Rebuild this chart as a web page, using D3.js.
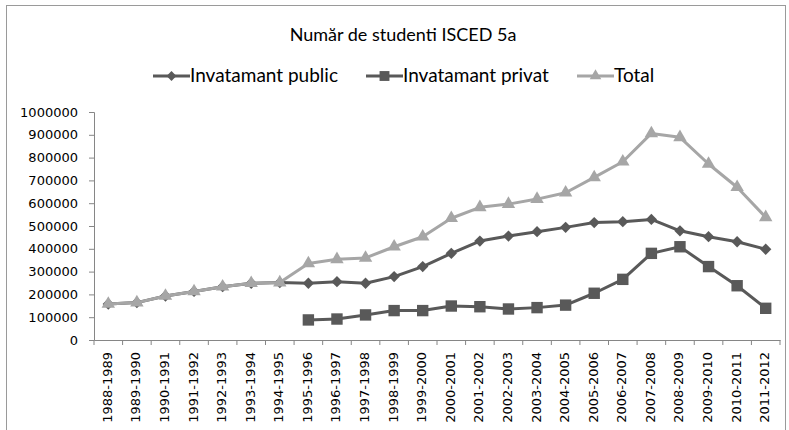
<!DOCTYPE html>
<html>
<head>
<meta charset="utf-8">
<script src="https://cdn.jsdelivr.net/npm/d3@7"></script>
<style>
  body { margin: 0; background: #fff; }
  svg { display: block; }
</style>
</head>
<body>
<div id="chart"></div>
<script>

const years = ["1988-1989", "1989-1990", "1990-1991", "1991-1992", "1992-1993", "1993-1994",
    "1994-1995", "1995-1996", "1996-1997", "1997-1998", "1998-1999", "1999-2000", "2000-2001",
    "2001-2002", "2002-2003", "2003-2004", "2004-2005", "2005-2006", "2006-2007", "2007-2008",
    "2008-2009", "2009-2010", "2010-2011", "2011-2012"];

const publicValues = [158000, 164000, 193000, 213000, 234000, 249000, 252000, 249000, 256000,
    249000, 278000, 322000, 380000, 434000, 456000, 475000, 494000, 515000, 519000, 529000,
    479000, 453000, 431000, 398000];

const privateValues = [null, null, null, null, null, null, null, 88000, 92000, 110000, 129000,
    129000, 149000, 146000, 136000, 142000, 153000, 205000, 266000, 380000, 409000, 322000,
    238000, 139000];

const totalValues = [158000, 164000, 193000, 213000, 234000, 249000, 252000, 336000, 354000,
    360000, 409000, 453000, 534000, 582000, 596000, 618000, 646000, 713000, 782000, 906000,
    889000, 772000, 670000, 538000];

const yTicks = [0, 100000, 200000, 300000, 400000, 500000, 600000, 700000, 800000, 900000, 1000000];

const width = 789, height = 430;
const plotLeft = 94, plotRight = 780, plotTop = 112, plotBottom = 340;

const svg = d3.select("#chart")
    .append("svg")
    .attr("width", width)
    .attr("height", height);

// chart frame (bottom edge is outside the picture)
svg.append("rect")
    .attr("x", 6.5).attr("y", 5.5)
    .attr("width", 779).attr("height", 440)
    .attr("fill", "none")
    .attr("stroke", "#9a9a9a")
    .attr("stroke-width", 1);

svg.append("text")
    .attr("x", 403).attr("y", 41)
    .attr("text-anchor", "middle")
    .style("font-family", "Lato, 'Open Sans', sans-serif")
    .style("font-size", "18px")
    .attr("fill", "#000")
    .text("Număr de studenti ISCED 5a");

const x = d3.scaleBand()
    .domain(years)
    .range([plotLeft, plotRight]);

const y = d3.scaleLinear()
    .domain([0, 1000000])
    .range([plotBottom, plotTop]);

// y axis
const yAxis = svg.append("g")
    .attr("transform", "translate(" + plotLeft + ",0)")
    .call(d3.axisLeft(y).tickValues(yTicks).tickSize(5).tickPadding(11).tickFormat(d3.format("d")));
yAxis.select(".domain").attr("stroke", "#868686");
yAxis.selectAll(".tick line").attr("stroke", "#868686");
yAxis.selectAll("text")
    .style("font-family", "'DejaVu Sans', Verdana, sans-serif")
    .style("font-size", "13px")
    .attr("fill", "#000");

// x axis, ticks on category boundaries
const xAxis = svg.append("g")
    .attr("transform", "translate(0," + plotBottom + ")")
    .call(d3.axisBottom(x).tickSize(0).tickPadding(0));
xAxis.select(".domain").attr("stroke", "#868686");
xAxis.selectAll(".tick line").remove();
xAxis.selectAll("text")
    .style("font-family", "'DejaVu Sans', Verdana, sans-serif")
    .style("font-size", "13px")
    .attr("fill", "#000")
    .attr("text-anchor", "end")
    .attr("dy", null)
    .attr("transform", "translate(3.5,12) rotate(-90)");

svg.append("g")
    .selectAll("line")
    .data(years.concat(["end"]))
    .enter()
    .append("line")
    .attr("x1", function (d, i) { return plotLeft + i * x.bandwidth(); })
    .attr("x2", function (d, i) { return plotLeft + i * x.bandwidth(); })
    .attr("y1", plotBottom)
    .attr("y2", plotBottom + 5)
    .attr("stroke", "#868686");

const cx = function (i) { return x(years[i]) + x.bandwidth() / 2; };

const series = [
    { name: "Invatamant public", values: publicValues, color: "#595959", symbol: d3.symbolSquare, size: 64, rot: 45 },
    { name: "Invatamant privat", values: privateValues, color: "#595959", symbol: d3.symbolSquare, size: 130, rot: 0 },
    { name: "Total", values: totalValues, color: "#a6a6a6", symbol: d3.symbolTriangle, size: 78, rot: 0 }
];

const line = d3.line()
    .defined(function (d) { return d !== null; })
    .x(function (d, i) { return cx(i); })
    .y(function (d) { return y(d); });

series.forEach(function (s) {
    svg.append("path")
        .datum(s.values)
        .attr("d", line)
        .attr("fill", "none")
        .attr("stroke", s.color)
        .attr("stroke-width", 3)
        .attr("stroke-linejoin", "round");

    svg.append("g")
        .selectAll("path")
        .data(s.values.map(function (v, i) { return { v: v, i: i }; }).filter(function (d) { return d.v !== null; }))
        .enter()
        .append("path")
        .attr("d", d3.symbol().type(s.symbol).size(s.size))
        .attr("transform", function (d) { return "translate(" + cx(d.i) + "," + y(d.v) + ") rotate(" + s.rot + ")"; })
        .attr("fill", s.color);
});

// legend
const legendX = [153, 366, 577];
series.forEach(function (s, i) {
    const g = svg.append("g").attr("transform", "translate(" + legendX[i] + ",76)");
    g.append("line")
        .attr("x1", 0).attr("x2", 37)
        .attr("stroke", s.color).attr("stroke-width", 3);
    g.append("path")
        .attr("d", d3.symbol().type(s.symbol).size(s.size * 0.75))
        .attr("transform", "translate(18.5,0) rotate(" + s.rot + ")")
        .attr("fill", s.color);
    g.append("text")
        .attr("x", 37).attr("y", 5.5)
        .style("font-family", "Lato, 'Open Sans', sans-serif")
        .style("font-size", "19px")
        .attr("fill", "#000")
        .text(s.name);
});

</script>
</body>
</html>
